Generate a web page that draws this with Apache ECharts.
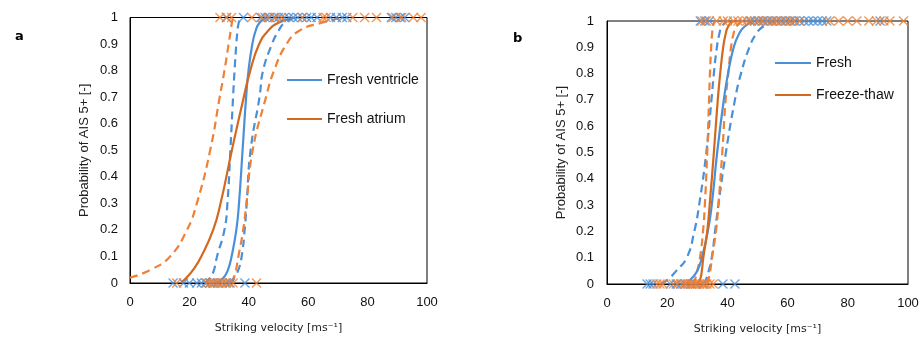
<!DOCTYPE html>
<html>
<head>
<meta charset="utf-8">
<script src="https://cdn.jsdelivr.net/npm/echarts@6/dist/echarts.min.js"></script>
<style>
html,body{margin:0;padding:0;background:#fff;}
#chart{width:922px;height:346px;}
</style>
</head>
<body>
<div id="chart"></div>
<script>
// Probability levels at which each fitted curve's velocity was read
const pLevels = [0, 0.02, 0.05, 0.1, 0.2, 0.3, 0.5, 0.7, 0.8, 0.9, 0.95, 0.98, 1];

// Panel a curves: velocity at each probability level
const ventricleFit   = [29, 31.5, 33, 34.2, 35.8, 36.7, 37.9, 39.1, 39.9, 41.2, 42.3, 43.6, 46];
const ventricleLowCI = [25, 27, 28.3, 29.3, 31.8, 32.8, 33.8, 34.7, 35.2, 35.8, 36.2, 36.6, 37.2];
const ventricleHiCI  = [33.5, 35, 36.5, 37.6, 38.6, 39.3, 40.6, 43.6, 44.8, 47.8, 50, 52, 55];
const atriumFit      = [17, 19, 21.3, 24, 28, 30.5, 34.3, 38.3, 40.5, 43.5, 46.5, 50, 56];
const atriumLowCI    = [null, 0, 7, 13.5, 19.2, 22.5, 27, 30.2, 31.8, 33.2, 33.9, 34.3, 34.7];
const atriumHiCI     = [34.5, 35, 35.7, 36.5, 38.1, 39.2, 41.3, 45.8, 48.5, 52.7, 57, 64.5, 72];

// Panel b curves
const freshFit       = [26, 28, 30, 31.5, 33.5, 34.8, 36.6, 38.8, 40.2, 42.1, 43.8, 45.8, 49];
const freshLowCI     = [18, 20.5, 23, 26.5, 29, 30.6, 33, 34.7, 35.5, 36.5, 37.3, 38.2, 40];
const freshHiCI      = [32, 33, 33.8, 34.8, 35.9, 37, 39.5, 42.5, 44.5, 47.3, 49.5, 52, 56];
const freezeFit      = [30, 31, 31.5, 32, 33.3, 34.1, 35.5, 36.8, 37.6, 38.6, 39.4, 40.3, 42];
const freezeLowCI    = [28.5, 29.3, 30, 30.9, 31.9, 32.5, 33.3, 33.9, 34.2, 34.6, 34.9, 35.2, 35.8];
const freezeHiCI     = [33.3, 33.8, 34.3, 34.9, 36.2, 37, 38.3, 39.4, 40.3, 41.2, 42, 43, 45];

// Observed tests (velocities): outcome 1 = AIS 5+, 0 = not
const ventricleHit  = [32.5, 38.2, 44, 45.5, 47, 48.5, 50, 52, 53.5, 55, 56.5, 58, 59.5, 61, 63, 67.5, 69.5, 71.5, 73, 88, 89.5, 91, 92.5];
const atriumHit     = [30.3, 32.5, 34.2, 41, 44.5, 46.5, 49, 51, 58, 65, 66, 75, 79, 83, 88.5, 91.5, 95.4, 98];
const ventricleMiss = [14.5, 18, 20, 22.5, 24, 25.5, 27, 28, 29.5, 31, 32.5, 33.7, 38.7];
const atriumMiss    = [15.7, 25.8, 26.8, 27.8, 28.8, 30, 31, 32, 33.3, 34.7, 42.6];

const freshHit   = [31, 32.5, 34, 47.5, 49, 50.5, 52, 53.5, 55, 56.5, 58, 59.5, 61, 62.5, 64, 65.5, 67, 68.5, 70, 71.5, 73, 90.7];
const freezeHit  = [31.5, 33, 36.4, 38.6, 40, 42, 43.5, 45, 46.5, 48, 50, 51.5, 53, 54.5, 56, 57.5, 59, 60.5, 62, 64, 74, 77, 80, 83, 87, 89.5, 92, 94, 98.5];
const freshMiss  = [13.3, 14.3, 15.3, 21, 23, 24.5, 26, 28, 29.5, 32, 38.5, 42.5];
const freezeMiss = [16.6, 17.6, 18.6, 22, 23.5, 25.2, 26, 26.8, 27.6, 28.4, 29.2, 30, 30.8, 31.6, 32.4, 33.2, 34.2, 35.3];

const xTicks = {min: 0, max: 100, interval: 20};
const yTicks = {min: 0, max: 1, interval: 0.1};

const BLUE = '#4A90D9';
const ORANGE = '#EF8035';
const ORANGE_DARK = '#D2691E';
const crossPath = 'path://M0,0L10,10M10,0L0,10';

function curve(vel) {
  const out = [];
  vel.forEach((v, i) => { if (v !== null) out.push([v, pLevels[i]]); });
  return out;
}
function lineSeries(name, vel, idx, color, dashed) {
  return {
    name, type: 'line', xAxisIndex: idx, yAxisIndex: idx,
    data: curve(vel), showSymbol: false, symbol: 'none',
    smooth: 0.5,
    lineStyle: {color, width: 2.2, type: dashed ? [8, 5] : 'solid'},
    itemStyle: {color}, z: dashed ? 3 : 4, silent: true
  };
}
function pts(name, vals, y, idx, color) {
  return {
    name, type: 'scatter', xAxisIndex: idx, yAxisIndex: idx,
    data: vals.map(v => [v, y]), symbol: crossPath, symbolSize: 9, clip: false,
    itemStyle: {color: 'none', borderColor: color, borderWidth: 1.4}, z: 5, silent: true
  };
}

const fontTick = 'Liberation Sans';
function xAx(idx) {
  return {
    gridIndex: idx, type: 'value', ...xTicks,
    name: 'Striking velocity [ms⁻¹]', nameLocation: 'middle', nameGap: 40,
    nameTextStyle: {fontFamily: 'DejaVu Sans', fontSize: 11, color: '#222'},
    axisLine: {show: true, lineStyle: {color: '#000', width: 1}},
    axisTick: {show: false}, splitLine: {show: false},
    axisLabel: {fontFamily: fontTick, fontSize: 13, color: '#111', margin: 13}
  };
}
function yAx(idx) {
  return {
    gridIndex: idx, type: 'value', ...yTicks,
    name: 'Probability of AIS 5+ [-]', nameLocation: 'middle', nameGap: 39,
    nameTextStyle: {fontFamily: fontTick, fontSize: 13, color: '#222'},
    axisLine: {show: true, lineStyle: {color: '#000', width: 1}},
    axisTick: {show: false}, splitLine: {show: false},
    axisLabel: {fontFamily: fontTick, fontSize: 13, color: '#111', margin: idx ? 13 : 12}
  };
}

const chart = echarts.init(document.getElementById('chart'), null, {renderer: 'canvas'});
chart.setOption({
  animation: false,
  backgroundColor: '#fff',
  title: [
    {text: 'a', left: 10, top: 25, textStyle: {fontFamily: 'DejaVu Sans', fontSize: 13, fontWeight: 'bold', color: '#000'}},
    {text: 'b', left: 508, top: 27, textStyle: {fontFamily: 'DejaVu Sans', fontSize: 13, fontWeight: 'bold', color: '#000'}}
  ],
  grid: [
    {left: 130, top: 17.5, width: 297, height: 265.5, show: true, borderColor: '#000', borderWidth: 1, backgroundColor: 'transparent'},
    {left: 607, top: 21, width: 301, height: 263, show: true, borderColor: '#000', borderWidth: 1, backgroundColor: 'transparent'}
  ],
  xAxis: [xAx(0), xAx(1)],
  yAxis: [yAx(0), yAx(1)],
  legend: [
    {data: ['Fresh ventricle', 'Fresh atrium'], orient: 'vertical', left: 282, top: 68,
     itemWidth: 35, itemHeight: 14, itemGap: 25, icon: 'path://M0,6L35,6L35,8L0,8Z',
     textStyle: {fontFamily: fontTick, fontSize: 14, color: '#111'}},
    {data: ['Fresh', 'Freeze-thaw'], orient: 'vertical', left: 770, top: 51,
     itemWidth: 36, itemHeight: 14, itemGap: 18, icon: 'path://M0,6L36,6L36,8L0,8Z',
     textStyle: {fontFamily: fontTick, fontSize: 14, color: '#111'}}
  ],
  series: [
    lineSeries('ventricle low CI', ventricleLowCI, 0, BLUE, true),
    lineSeries('ventricle high CI', ventricleHiCI, 0, BLUE, true),
    lineSeries('atrium low CI', atriumLowCI, 0, ORANGE, true),
    lineSeries('atrium high CI', atriumHiCI, 0, ORANGE, true),
    lineSeries('Fresh ventricle', ventricleFit, 0, BLUE, false),
    lineSeries('Fresh atrium', atriumFit, 0, ORANGE_DARK, false),
    pts('ventricle hit', ventricleHit, 1, 0, BLUE),
    pts('atrium hit', atriumHit, 1, 0, ORANGE),
    pts('ventricle miss', ventricleMiss, 0, 0, BLUE),
    pts('atrium miss', atriumMiss, 0, 0, ORANGE),

    lineSeries('fresh low CI', freshLowCI, 1, BLUE, true),
    lineSeries('fresh high CI', freshHiCI, 1, BLUE, true),
    lineSeries('freeze low CI', freezeLowCI, 1, ORANGE, true),
    lineSeries('freeze high CI', freezeHiCI, 1, ORANGE, true),
    lineSeries('Fresh', freshFit, 1, BLUE, false),
    lineSeries('Freeze-thaw', freezeFit, 1, ORANGE_DARK, false),
    pts('fresh hit', freshHit, 1, 1, BLUE),
    pts('freeze hit', freezeHit, 1, 1, ORANGE),
    pts('fresh miss', freshMiss, 0, 1, BLUE),
    pts('freeze miss', freezeMiss, 0, 1, ORANGE)
  ]
});
</script>
</body>
</html>
